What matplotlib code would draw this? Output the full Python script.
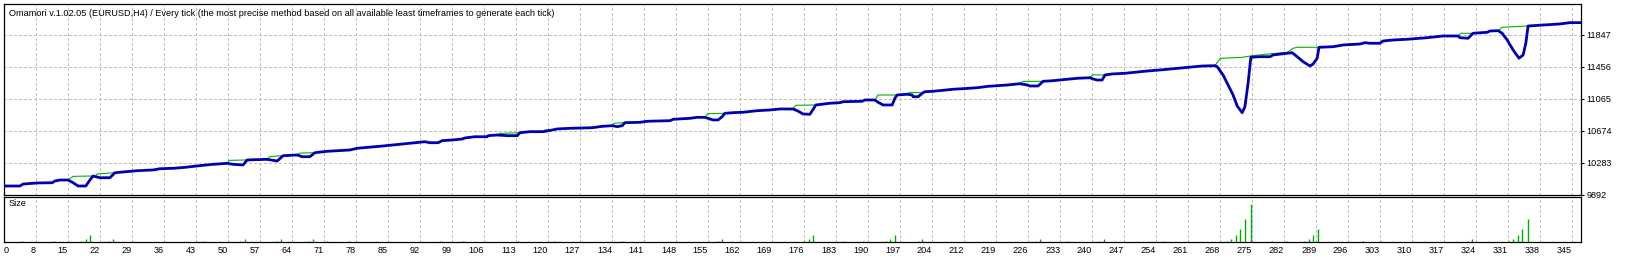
import matplotlib
matplotlib.use("Agg")
import matplotlib.pyplot as plt

plt.rcParams['font.family'] = ['Liberation Sans', 'DejaVu Sans']

title = "Omamori v.1.02.05 (EURUSD,H4) / Every tick (the most precise method based on all available least timeframes to generate each tick)"

# balance curve (blue), trade number vs account value
bal_trade = [0, 3.5, 4.2, 7.3, 10.6, 11.2, 12.3, 14.1, 15.2, 16.3, 18.0, 18.9, 19.6, 21.1, 23.3,
             24.4, 26.2, 29.3, 32.8, 34.3, 37.2, 39.8, 43.8, 46.0, 49.1, 50.4, 52.6, 53.5, 57.9,
             60.1, 61.4, 64.5, 65.6, 67.3, 68.4, 71.1, 76.1, 77.7, 83.4, 87.1, 90.4, 92.6, 93.7,
             95.5, 96.4, 98.6, 100.8, 101.4, 103.6, 106.3, 106.5, 108.5, 110.7, 112.9, 113.5,
             115.7, 118.6, 120.6, 121.7, 124.5, 129.4, 131.6, 133.8, 134.9, 136.0, 136.6, 139.9,
             141.5, 146.5, 147.2, 150.9, 152.5, 154.2, 154.9, 156.0, 157.1, 158.0, 158.6, 160.4,
             162.6, 165.7, 168.5, 170.7, 173.6, 174.5, 175.8, 177.3, 178.2, 178.6, 181.7, 183.9,
             184.6, 188.8, 189.4, 191.6, 192.3, 193.4, 195.4, 196.0, 196.5, 198.7, 199.8, 200.0,
             201.1, 202.2, 202.6, 204.4, 206.6, 208.8, 211.0, 214.1, 216.5, 220.7, 223.5, 225.1,
             225.7, 227.5, 228.6, 230.8, 234.5, 236.1, 238.9, 239.6, 240.5, 241.6, 242.2, 243.8,
             246.6, 248.8, 251.5, 255.0, 258.1, 260.5, 263.6, 266.4, 266.9, 268.2, 269.3, 270.4,
             271.3, 272.4, 273.0, 273.7, 274.3, 276.3, 278.5, 279.2, 282.3, 283.4, 284.5, 285.8,
             287.3, 288.0, 288.9, 289.3, 292.4, 294.6, 298.3, 299.4, 300.5, 302.7, 303.4, 305.6,
             308.7, 313.1, 316.6, 319.9, 320.3, 322.1, 323.2, 326.3, 326.9, 328.7, 329.6, 330.7,
             332.0, 333.3, 334.2, 334.8, 335.3, 338.6, 342.3, 344.5, 346.7]
bal_value = [10002, 10002, 10026, 10039, 10042, 10063, 10075, 10075, 10042, 10002, 10002, 10075,
             10124, 10103, 10103, 10164, 10173, 10189, 10198, 10213, 10218, 10230, 10255, 10267,
             10279, 10267, 10259, 10320, 10328, 10307, 10372, 10381, 10360, 10360, 10409, 10426,
             10442, 10463, 10491, 10512, 10531, 10543, 10531, 10531, 10556, 10564, 10576, 10589,
             10604, 10604, 10617, 10625, 10617, 10617, 10653, 10666, 10666, 10686, 10699, 10707,
             10714, 10731, 10739, 10727, 10739, 10776, 10780, 10793, 10800, 10817, 10829, 10841,
             10841, 10829, 10809, 10809, 10849, 10890, 10898, 10903, 10922, 10931, 10943, 10943,
             10922, 10882, 10878, 10955, 10992, 11013, 11020, 11032, 11037, 11053, 11053, 11025,
             10992, 10992, 11074, 11114, 11123, 11114, 11093, 11093, 11142, 11154, 11159, 11171,
             11184, 11191, 11203, 11220, 11236, 11252, 11236, 11224, 11224, 11281, 11289, 11310,
             11318, 11325, 11310, 11297, 11297, 11358, 11371, 11379, 11391, 11407, 11423, 11440,
             11452, 11468, 11472, 11460, 11358, 11236, 11114, 10980, 10898, 10971, 11257, 11575,
             11582, 11582, 11603, 11624, 11631, 11582, 11521, 11468, 11493, 11562, 11697, 11704,
             11725, 11737, 11753, 11746, 11746, 11774, 11786, 11795, 11814, 11835, 11835, 11814,
             11807, 11868, 11880, 11896, 11900, 11868, 11786, 11664, 11563, 11603, 11746, 11957,
             11969, 11982, 11998, 11998]

# equity (green) where it separates from the balance line
equity_parts = [
    [(14.1, 10075), (15.2, 10120), (19.6, 10124)],
    [(20.0, 10110), (20.5, 10150), (24.4, 10164)],
    [(49.1, 10279), (49.5, 10315), (53.5, 10320)],
    [(57.9, 10328), (58.5, 10362), (61.4, 10372)],
    [(64.5, 10381), (65.0, 10404), (68.4, 10409)],
    [(108.5, 10625), (109.2, 10645), (113.5, 10653)],
    [(118.6, 10666), (119.0, 10686), (120.6, 10686)],
    [(133.8, 10739), (134.3, 10770), (136.6, 10776)],
    [(154.2, 10841), (154.8, 10886), (158.6, 10890)],
    [(173.6, 10943), (174.2, 10988), (178.6, 10992)],
    [(191.6, 11053), (192.3, 11114), (196.5, 11114)],
    [(198.7, 11123), (199.2, 11145), (202.2, 11142)],
    [(223.5, 11252), (224.2, 11280), (228.6, 11281)],
    [(238.9, 11325), (239.5, 11360), (242.2, 11358)],
    [(266.4, 11472), (267.6, 11562), (272.4, 11574), (274.6, 11594), (277.4, 11611),
     (282.3, 11636), (283.6, 11684), (284.5, 11697), (289.3, 11697)],
    [(319.9, 11835), (320.5, 11868), (323.2, 11868)],
    [(328.7, 11900), (329.6, 11941), (335.3, 11957)],
]

# lot size bars
size_trade = [4, 11, 17, 18, 19, 23, 24, 44, 52, 53, 60, 61, 67, 68, 71, 76, 96, 101, 113, 121,
              136, 157, 158, 176, 177, 178, 184.5, 189, 194, 195, 196, 201, 202, 227, 228, 234,
              241, 242, 255, 269, 270, 271, 272, 273, 274.4, 279, 282, 286, 287, 288, 289, 299,
              303, 322, 323, 331, 332, 333, 334, 335.3]
size_lots = [0.01, 0.01, 0.01, 0.03, 0.07, 0.01, 0.03, 0.01, 0.01, 0.03, 0.01, 0.03, 0.01, 0.03,
             0.01, 0.01, 0.01, 0.01, 0.01, 0.01, 0.01, 0.01, 0.03, 0.01, 0.03, 0.07, 0.01, 0.01,
             0.01, 0.03, 0.07, 0.01, 0.03, 0.01, 0.03, 0.01, 0.01, 0.03, 0.01, 0.01, 0.03, 0.07,
             0.13, 0.23, 0.38, 0.01, 0.01, 0.01, 0.03, 0.07, 0.13, 0.01, 0.01, 0.01, 0.03, 0.01,
             0.03, 0.07, 0.13, 0.23]

x_labels = ['0', '8', '15', '22', '29', '36', '43', '50', '57', '64', '71', '78', '85', '92', '99',
            '106', '113', '120', '127', '134', '141', '148', '155', '162', '169', '176', '183',
            '190', '197', '204', '212', '219', '226', '233', '240', '247', '254', '261', '268',
            '275', '282', '289', '296', '303', '310', '317', '324', '331', '338', '345']
y_ticks = [9892, 10283, 10674, 11065, 11456, 11847]

grid_step = 345 / 49
fs = 6.6
blue = '#0000B0'
green = '#00B400'
gridkw = dict(color='#C0C0C0', lw=0.75, linestyle=(0, (2.2, 2.2)), antialiased=False)

fig = plt.figure(figsize=(16.26, 2.59), dpi=100)
W, H = 1626, 259
ax = fig.add_axes([4 / W, (H - 195) / H, 1577 / W, 191 / H])
ax2 = fig.add_axes([4 / W, (H - 242) / H, 1577 / W, 45 / H], sharex=ax)

xt = [k * grid_step for k in range(len(x_labels))]

for a in (ax, ax2):
    for x in xt:
        a.axvline(x, zorder=0, **gridkw)
    for s in a.spines.values():
        s.set_linewidth(0.9)
        s.set_color('black')
for y in y_ticks[1:]:
    ax.axhline(y, zorder=0, **gridkw)

for part in equity_parts:
    ax.plot([p[0] for p in part], [p[1] for p in part], color=green, lw=0.8, zorder=2)
ax.plot(bal_trade, bal_value, color=blue, lw=2.0, zorder=3, solid_joinstyle='round')

ax.set_xlim(0, 1577 * 0.22)
ax.set_ylim(9892, 9892 + 191 * 391 / 32)
ax.yaxis.tick_right()
ax.set_yticks(y_ticks)
ax.set_yticklabels([str(v) for v in y_ticks], fontsize=fs)
ax.tick_params(axis='y', length=2.5, width=0.8, pad=1.5)
ax.tick_params(axis='x', length=0, labelbottom=False)

ax.text(5 / 1577, 1 - 9 / 191, title, transform=ax.transAxes, fontsize=6.6,
        ha='left', va='center')

ax2.vlines(size_trade, 0, size_lots, color='#00B000', lw=1.0)
ax2.set_ylim(0, 0.45)
ax2.set_yticks([])
ax2.set_xticks(xt)
ax2.set_xticklabels(x_labels, fontsize=fs)
ax2.tick_params(axis='x', length=0, pad=3)
for i, lab in enumerate(ax2.get_xticklabels()):
    lab.set_ha('left' if i == 0 else 'right')
ax2.text(5 / 1577, 1 - 7 / 45, 'Size', transform=ax2.transAxes, fontsize=fs,
         ha='left', va='center')

fig.savefig('out.png', dpi=100)
